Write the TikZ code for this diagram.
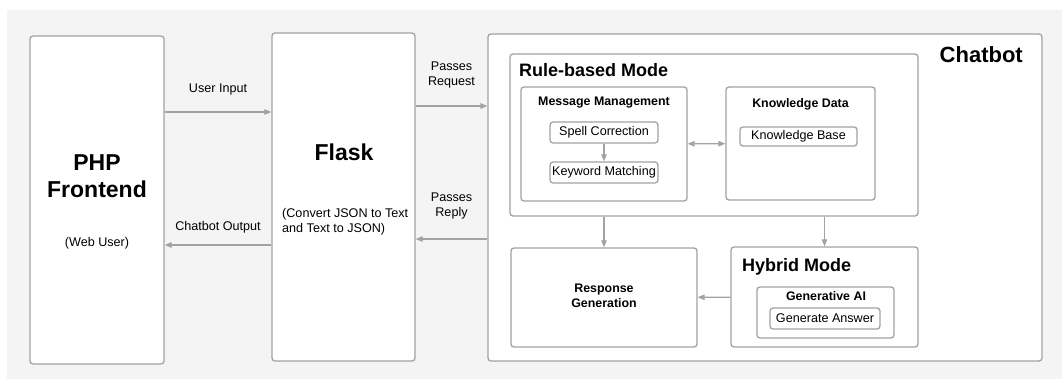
\documentclass[tikz,border=0pt]{standalone}
\usepackage{fontspec}
\setmainfont{Liberation Sans}
\usepackage{tikz}
\usetikzlibrary{arrows.meta,calc,positioning}
\definecolor{linegray}{HTML}{A2A2A2}
\definecolor{bggray}{HTML}{F4F4F4}

\begin{document}
\begin{tikzpicture}[x=1pt,y=-1pt,
  box/.style={draw=linegray,line width=1.3pt,rounded corners=3pt,fill=white,inner sep=0pt,font=\fontsize{12.6}{15}\selectfont},
  arr/.style={draw=linegray,line width=1.2pt,-{Triangle[length=7pt,width=5.5pt]}},
  lbl/.style={inner sep=0pt,align=center,font=\fontsize{12.6}{15}\selectfont},
  sub/.style={inner sep=0pt,align=center,font=\bfseries\fontsize{12.4}{15}\selectfont},
  mode/.style={inner sep=0pt,font=\bfseries\fontsize{18}{22}\selectfont},
  big/.style={inner sep=0pt,align=center,font=\bfseries\fontsize{23}{27}\selectfont}]
\useasboundingbox (0,0) rectangle (1062,379);
\fill[bggray] (7,10) rectangle (1062,379);
% outer blocks
\node[box,minimum width=134,minimum height=328] (php) at (97,200) {};
\node[box,minimum width=143,minimum height=328] (flask) at (343.5,197) {};
\node[box,minimum width=554,minimum height=327] (chatbot) at (765,197.5) {};
% rule-based mode
\node[box,minimum width=408,minimum height=162] (rule) at (714,135) {};
\node[box,minimum width=166,minimum height=114] (msg) at (604,144) {};
\node[box,minimum width=149,minimum height=113] (know) at (800.5,143.5) {};
\node[box,minimum width=108,minimum height=21] (spell) at (604,132.5) {Spell Correction};
\node[box,minimum width=108,minimum height=21] (keyword) at (604,172.5) {Keyword Matching};
\node[box,minimum width=117,minimum height=19] (kbase) at (798.5,136.5) {Knowledge Base};
% lower row
\node[box,minimum width=186,minimum height=99] (resp) at (604,297.5) {};
\node[box,minimum width=187,minimum height=100] (hybrid) at (824.5,297) {};
\node[box,minimum width=137,minimum height=51] (genai) at (825.5,312.5) {};
\node[box,minimum width=110,minimum height=21] (genans) at (825,318.5) {Generate Answer};
% texts
\node[big] (phptext) at (97,176) {PHP\\Frontend};
\node[lbl] (webuser) at (97,243) {(Web User)};
\node[big] (flasktext) at (344,152) {Flask};
\node[lbl,align=left,anchor=west] (convert) at (282,221.5) {(Convert JSON to Text\\and Text to JSON)};
\node[inner sep=0pt,anchor=east,font=\bfseries\fontsize{22}{26}\selectfont] (chattext) at (1023,55) {Chatbot};
\node[mode,anchor=west] (ruletext) at (519,70) {Rule-based Mode};
\node[mode,anchor=west] (hybridtext) at (742,267) {Hybrid Mode};
\node[sub] (msgtext) at (604,103) {Message Management};
\node[sub] (knowtext) at (800.5,104) {Knowledge Data};
\node[sub] (genaitext) at (826,296) {Generative AI};
\node[sub] (resptext) at (604,296) {Response\\Generation};
% connectors
\coordinate (ui) at (0,112);
\coordinate (co) at (0,245);
\coordinate (pq) at (0,106);
\coordinate (pr) at (0,239);
\draw[arr] (php.east |- ui) -- node[lbl,yshift=23pt] {User Input} (flask.west |- ui);
\draw[arr] (flask.west |- co) -- node[lbl,yshift=18pt] {Chatbot Output} (php.east |- co);
\draw[arr] (flask.east |- pq) -- node[lbl,yshift=31.5pt] {Passes\\Request} (chatbot.west |- pq);
\draw[arr] (chatbot.west |- pr) -- node[lbl,yshift=33.5pt] {Passes\\Reply} (flask.east |- pr);
\draw[arr] (spell) -- (keyword);
\draw[arr,{Triangle[length=7pt,width=5.5pt]}-{Triangle[length=7pt,width=5.5pt]}] (msg) -- (know);
\draw[arr] (rule.south -| resp) -- (resp);
\draw[arr] (rule.south -| hybrid) -- (hybrid);
\draw[arr] (hybrid) -- (resp);
\end{tikzpicture}
\end{document}
